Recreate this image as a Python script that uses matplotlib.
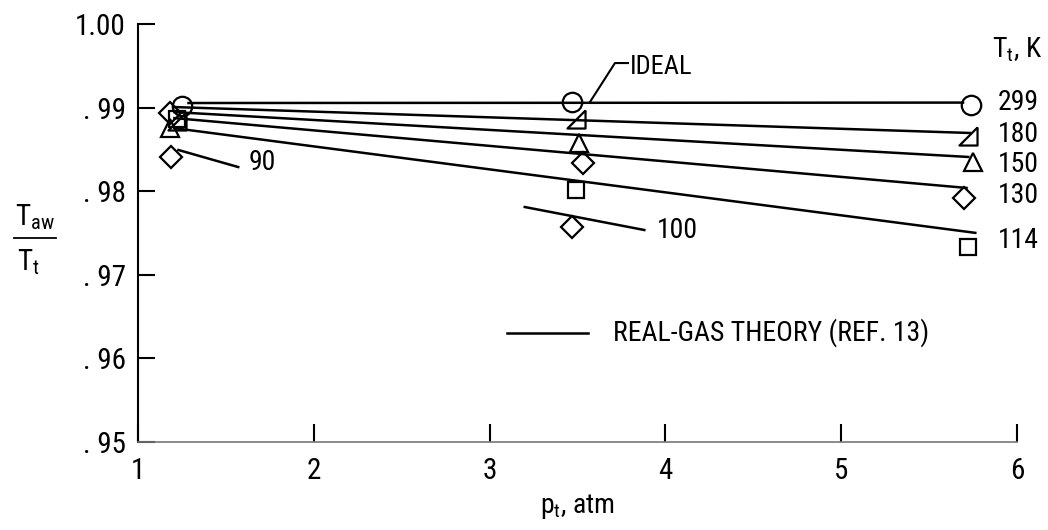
import matplotlib
matplotlib.use("Agg")
import matplotlib.pyplot as plt
from matplotlib import font_manager

# recovery temperature ratio vs. stagnation pressure, real-gas theory lines
temps = ["299", "180", "150", "130", "114"]
p_data = [
    [1.25, 3.47, 5.74],   # 299 K
    [1.22, 3.49, 5.72],   # 180 K
    [1.18, 3.51, 5.75],   # 150 K
    [1.18, 3.53, 5.70],   # 130 K
    [1.22, 3.49, 5.72],   # 114 K
]
r_data = [
    [0.99019, 0.99067, 0.99031],
    [0.98840, 0.98864, 0.98660],
    [0.98756, 0.98577, 0.98349],
    [0.98935, 0.98337, 0.97919],
    [0.98860, 0.98014, 0.97333],
]
theory_p = [[1.28, 5.70], [1.20, 5.74], [1.20, 5.73], [1.20, 5.72], [1.20, 5.77]]
theory_r = [[0.99055, 0.99060], [0.99007, 0.98696], [0.98947, 0.98409],
            [0.98876, 0.98038], [0.98756, 0.97500]]
label_r = [0.99067, 0.98684, 0.98325, 0.97943, 0.97416]

# single low-temperature points
extra_temps = ["90", "100"]
extra_p = [1.19, 3.47]
extra_r = [0.98409, 0.97572]
extra_line_p = [[1.23, 1.57], [3.20, 3.88]]
extra_line_r = [[0.98493, 0.98289], [0.97811, 0.97536]]
extra_label_p = [1.63, 3.95]
extra_label_r = [0.98349, 0.97536]

xticks = [1, 2, 3, 4, 5, 6]
yticks = [0.95, 0.96, 0.97, 0.98, 0.99, 1.00]
ytick_labels = [". 95", ". 96", ". 97", ". 98", ". 99", "1.00"]

names = {f.name for f in font_manager.fontManager.ttflist}
fam = "DejaVu Sans"
for cand in ["Liberation Sans Narrow", "Roboto Condensed", "Open Sans Condensed",
             "Liberation Sans"]:
    if cand in names:
        fam = cand
        break
plt.rcParams["font.family"] = [fam, "DejaVu Sans"]
plt.rcParams["mathtext.fontset"] = "custom"
plt.rcParams["mathtext.rm"] = fam
plt.rcParams["mathtext.it"] = fam

right_tri = [(1, 1), (1, -1), (-1, -1), (1, 1)]
markers = ["o", right_tri, "^", "D", "s"]
msizes = [14, 13, 13, 11, 12]

fig = plt.figure(figsize=(10.48, 5.30), dpi=100)
ax = fig.add_axes([0.1317, 0.166, 0.8387, 0.7887])

for i in range(len(temps)):
    ax.plot(theory_p[i], theory_r[i], color="black", lw=1.8, solid_capstyle="butt")
    ax.plot(p_data[i], r_data[i], linestyle="none", marker=markers[i],
            ms=msizes[i], mfc="none", mec="black", mew=1.6, clip_on=False)
    ax.text(5.89, label_r[i], temps[i], fontsize=20, va="center", ha="left")

for j in range(len(extra_temps)):
    ax.plot(extra_line_p[j], extra_line_r[j], color="black", lw=1.8)
    ax.plot(extra_p[j], extra_r[j], linestyle="none", marker="D", ms=11,
            mfc="none", mec="black", mew=1.6, clip_on=False)
    ax.text(extra_label_p[j], extra_label_r[j], extra_temps[j], fontsize=20,
            va="center", ha="left")

ax.text(5.86, 0.99689, r"$\mathrm{T}_{\mathrm{t}}$, K", fontsize=20, va="center", ha="left")

# IDEAL leader
ax.plot([3.787, 3.713, 3.571], [0.99533, 0.99533, 0.99067], color="black", lw=1.5)
ax.text(3.80, 0.99486, "IDEAL", fontsize=19, va="center", ha="left")

# key
ax.plot([3.10, 3.56], [0.96304, 0.96304], color="black", lw=1.8)
ax.text(3.70, 0.96304, "REAL-GAS THEORY (REF. 13)", fontsize=20, va="center", ha="left")

ax.set_xlim(1, 6)
ax.set_ylim(0.95, 1.00)
ax.set_xticks(xticks)
ax.set_xticklabels([str(t) for t in xticks], fontsize=21)
ax.set_yticks(yticks)
ax.set_yticklabels(ytick_labels, fontsize=21)
ax.tick_params(axis="y", direction="in", length=12, width=1.5, pad=9)
ax.tick_params(axis="x", direction="in", length=13, width=1.5, pad=11)
ax.spines["top"].set_visible(False)
ax.spines["right"].set_visible(False)
ax.spines["left"].set_linewidth(1.5)
ax.spines["bottom"].set_linewidth(1.2)
ax.spines["bottom"].set_color("#777777")

# y label as stacked fraction
fig.text(0.033, 0.59, r"$\mathrm{T}_{\mathrm{aw}}$", fontsize=21, ha="center", va="center")
fig.add_artist(plt.Line2D([0.013, 0.053], [0.551, 0.551], color="black", lw=1.3))
fig.text(0.027, 0.505, r"$\mathrm{T}_{\mathrm{t}}$", fontsize=21, ha="center", va="center")

ax.set_xlabel(r"$\mathrm{p}_{\mathrm{t}}$, atm", fontsize=20, labelpad=5)

fig.savefig("out.png", dpi=100)
